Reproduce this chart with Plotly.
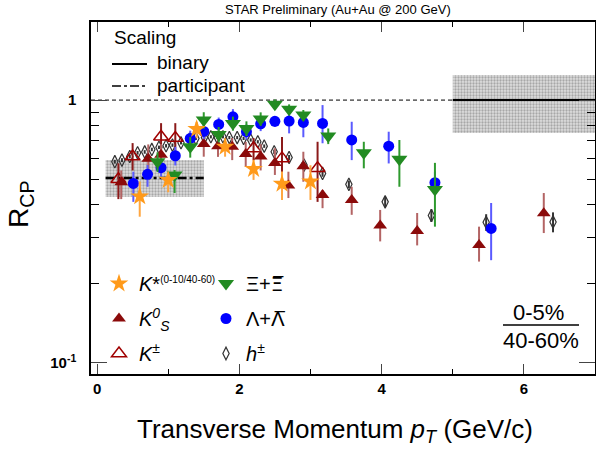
import plotly.graph_objects as go

# R_CP (0-5% / 40-60%)
pt_h = [0.25, 0.35, 0.46, 0.57, 0.67, 0.77, 0.87, 0.97, 1.06, 1.18, 1.30, 1.39, 1.51, 1.60, 1.69, 1.77,
        1.86, 1.97, 2.06, 2.16, 2.26, 2.35, 2.49, 2.70, 2.91, 3.17, 3.54, 4.05, 4.70, 5.47, 6.41]
r_h = [0.583, 0.591, 0.61, 0.63, 0.635, 0.649, 0.661, 0.67, 0.674, 0.688, 0.71, 0.715, 0.72, 0.725, 0.72, 0.725,
       0.72, 0.72, 0.715, 0.705, 0.694, 0.668, 0.636, 0.605, 0.566, 0.526, 0.478, 0.41, 0.364, 0.343, 0.344]
err_h = [0.01] * 22 + [0.012, 0.013, 0.014, 0.015, 0.016, 0.018, 0.02, 0.025, 0.03]

pt_kstar = [0.6, 1.0, 1.4, 1.8, 2.2, 2.6, 3.0]
r_kstar = [0.43, 0.496, 0.776, 0.664, 0.547, 0.48, 0.49]
up_kstar = [0.06, 0.035, 0.05, 0.05, 0.045, 0.055, 0.075]
dn_kstar = [0.07, 0.05, 0.06, 0.055, 0.05, 0.063, 0.073]

pt_k0 = [0.34, 0.72, 0.9, 1.5, 1.7, 1.9, 2.09, 2.3, 2.5, 2.69, 2.9, 3.17, 3.58, 3.98, 4.5, 5.37, 6.28]
r_k0 = [0.487, 0.598, 0.62, 0.68, 0.668, 0.664, 0.623, 0.61, 0.576, 0.473, 0.56, 0.435, 0.417, 0.333, 0.318, 0.281, 0.371]
up_k0 = [0.053, 0.08, 0.06, 0.056, 0.05, 0.053, 0.07, 0.07, 0.08, 0.061, 0.076, 0.02, 0.051, 0.049, 0.054, 0.049, 0.072]
dn_k0 = [0.067, 0.08, 0.06, 0.071, 0.06, 0.073, 0.066, 0.07, 0.057, 0.049, 0.071, 0.047, 0.051, 0.043, 0.038, 0.038, 0.059]

pt_kch = [0.3, 0.5, 0.9, 1.1, 2.2, 2.6, 3.1]
r_kch = [0.50, 0.61, 0.725, 0.717, 0.655, 0.60, 0.55]
up_kch = [0.075, 0.076, 0.092, 0.10, 0.062, 0.123, 0.144]
dn_kch = [0.08, 0.07, 0.125, 0.11, 0.065, 0.104, 0.14]

pt_lam = [0.51, 0.71, 0.90, 1.10, 1.31, 1.50, 1.71, 1.91, 2.10, 2.30, 2.50, 2.70, 2.90, 3.17, 3.58, 4.10, 4.75, 5.54]
r_lam = [0.482, 0.522, 0.553, 0.614, 0.715, 0.76, 0.808, 0.864, 0.758, 0.812, 0.83, 0.832, 0.822, 0.815, 0.705, 0.668, 0.485, 0.325]
up_lam = [0.052, 0.044, 0.04, 0.05, 0.05, 0.05, 0.05, 0.06, 0.05, 0.05, 0.04, 0.05, 0.07, 0.142, 0.122, 0.09, 0.05, 0.081]
dn_lam = [0.072, 0.054, 0.04, 0.05, 0.05, 0.05, 0.05, 0.06, 0.05, 0.05, 0.04, 0.085, 0.1, 0.13, 0.114, 0.094, 0.05, 0.079]

pt_xi = [0.85, 1.09, 1.31, 1.50, 1.71, 1.91, 2.10, 2.30, 2.50, 2.70, 2.90, 3.25, 3.75, 4.25, 4.75]
r_xi = [0.583, 0.519, 0.664, 0.839, 0.74, 0.815, 0.78, 0.848, 0.965, 0.923, 0.877, 0.73, 0.63, 0.595, 0.457]
up_xi = [0.05, 0.023, 0.06, 0.06, 0.05, 0.05, 0.05, 0.05, 0.04, 0.04, 0.04, 0.05, 0.064, 0.11, 0.12]
dn_xi = [0.05, 0.076, 0.06, 0.06, 0.05, 0.05, 0.05, 0.05, 0.04, 0.04, 0.04, 0.05, 0.08, 0.127, 0.127]

# scaling uncertainty bands
npart_pt = [0.12, 1.5]
npart_val, npart_lo, npart_hi = 0.505, 0.428, 0.591
nbin_pt = [5.0, 7.0]
nbin_val, nbin_lo, nbin_hi = 1.0, 0.75, 1.245

FONT = "Liberation Sans, Arial, sans-serif"
L, R, T, B, W, H = 91, 1, 22, 80, 596, 454


def px(x):
    return (x - L) / (W - L - R)


def py(y):
    return (H - B - y) / (H - T - B)


fig = go.Figure()

# grey boxes
for xs, lo, hi in [(npart_pt, npart_lo, npart_hi), (nbin_pt, nbin_lo, nbin_hi)]:
    fig.add_trace(go.Scatter(
        x=[xs[0], xs[1], xs[1], xs[0], xs[0]], y=[lo, lo, hi, hi, lo],
        fill="toself", mode="none", showlegend=False, hoverinfo="skip",
        fillpattern=dict(shape=".", fgcolor="#707070", bgcolor="#dedede", size=3, solidity=0.45),
    ))

fig.add_trace(go.Scatter(x=npart_pt, y=[npart_val] * 2, mode="lines", showlegend=False,
                         line=dict(color="black", width=2.5, dash="dashdot")))
fig.add_trace(go.Scatter(x=[-0.085, nbin_pt[0]], y=[nbin_val] * 2, mode="lines", showlegend=False,
                         line=dict(color="black", width=1, dash="4px,3px")))
fig.add_trace(go.Scatter(x=nbin_pt, y=[nbin_val] * 2, mode="lines", showlegend=False,
                         line=dict(color="black", width=2)))


def series(x, y, up, dn, name, symbol, size, color, barcolor, legend, rank, lw=0):
    fig.add_trace(go.Scatter(
        x=x, y=y, mode="markers", name=name, legend=legend, legendgroup=name, legendrank=rank,
        error_y=dict(type="data", array=up, arrayminus=dn, color=barcolor, thickness=2, width=0),
        marker=dict(symbol=symbol, size=size, color=color, line=dict(color=color, width=lw)),
    ))


bar = "<span style='font-family:DejaVu Sans'>%s\u0305</span>"
series(pt_h, r_h, err_h, err_h, "<i>h</i><sup>\u00b1</sup>", "diamond-tall-open", 9, "#333333", "#333333", "legend2", 6, 1.2)
series(pt_kch, r_kch, up_kch, dn_kch, "<i>K</i><sup>\u00b1</sup>", "triangle-up-open", 13, "#a00000", "#8b1a1a", "legend", 3, 1.5)
series(pt_k0, r_k0, up_k0, dn_k0, "<i>K</i><sup><i>0</i></sup><sub><i>S</i></sub>", "triangle-up", 12, "#8b0a0a", "#b36464", "legend", 2)
series(pt_lam, r_lam, up_lam, dn_lam, "\u039b+" + bar % "\u039b", "circle", 11, "#0000ff", "#5a5aff", "legend2", 5)
series(pt_xi, r_xi, up_xi, dn_xi, "\u039e+" + bar % "\u039e", "triangle-down", 14, "#228b22", "#2e9a2e", "legend2", 4)
series(pt_kstar, r_kstar, up_kstar, dn_kstar,
       "<i>K</i>*<sup><span style='font-size:10px'>(0-10/40-60)</span></sup>", "star", 14, "#ff9a1a", "#ffa640", "legend", 1)

leg = dict(bgcolor="rgba(0,0,0,0)", font=dict(family=FONT, size=20, color="black"),
           tracegroupgap=6, yanchor="top", xanchor="left", itemsizing="trace")

annotations = [
    dict(text="STAR Preliminary (Au+Au @ 200 GeV)", x=px(338), y=py(10), font=dict(size=13)),
    dict(text="Scaling", x=px(112), y=py(38), xanchor="left", font=dict(size=19)),
    dict(text="binary", x=px(155), y=py(63), xanchor="left", font=dict(size=19)),
    dict(text="participant", x=px(155), y=py(85), xanchor="left", font=dict(size=19)),
    dict(text="R<sub>CP</sub>", x=px(20), y=py(205), textangle=-90, font=dict(size=28)),
    dict(text="Transverse Momentum <i>p<sub>T</sub></i> (GeV/c)", x=px(335), y=py(430), font=dict(size=26)),
    dict(text="0-5%", x=px(538), y=py(312), font=dict(size=22)),
    dict(text="40-60%", x=px(541), y=py(340), font=dict(size=22)),
]
for a in annotations:
    a.setdefault("xanchor", "center")
    a.update(xref="paper", yref="paper", showarrow=False, yanchor="middle")
    a["font"] = dict(family=FONT, color="black", **a["font"])

shapes = [
    dict(type="line", x0=px(112), x1=px(147), y0=py(64), y1=py(64), line=dict(color="black", width=2)),
    dict(type="line", x0=px(112), x1=px(147), y0=py(86), y1=py(86), line=dict(color="black", width=1.5, dash="dashdot")),
    dict(type="line", x0=px(503), x1=px(579), y0=py(325), y1=py(325), line=dict(color="black", width=1.5)),
]
for s in shapes:
    s.update(xref="paper", yref="paper")

fig.update_layout(
    width=W, height=H, margin=dict(l=L, r=R, t=T, b=B, autoexpand=False),
    plot_bgcolor="white", paper_bgcolor="white",
    font=dict(family=FONT, color="black"),
    annotations=annotations, shapes=shapes,
    legend=dict(leg, x=px(99), y=py(264)),
    legend2=dict(leg, x=px(206), y=py(264)),
    xaxis=dict(range=[-0.085, 7.0], tickvals=[0, 2, 4, 6], ticks="inside", ticklen=10, tickwidth=1.2,
               showline=True, linecolor="black", linewidth=1.5, mirror="ticks", showgrid=False, zeroline=False,
               automargin=False, tickfont=dict(family=FONT, size=15, weight="bold"),
               minor=dict(tickvals=[1, 3, 5], ticks="inside", ticklen=5, tickcolor="black", showgrid=False)),
    yaxis=dict(type="log", range=[-1.042, 0.297], tickvals=[0.1, 1], ticktext=["10<sup>-1</sup>", "1"],
               ticks="inside", ticklen=16, tickwidth=1.2, ticklabelstandoff=10,
               showline=True, linecolor="black", linewidth=1.5, mirror="ticks", showgrid=False, zeroline=False,
               automargin=False, tickfont=dict(family=FONT, size=15, weight="bold"),
               minor=dict(tickvals=[0.2, 0.3, 0.4, 0.5, 0.6, 0.7, 0.8, 0.9, 2], ticks="inside", ticklen=8,
                          tickcolor="black", showgrid=False)),
)

fig.write_html("out.html", config={"displayModeBar": False},
               post_script="document.body.style.margin='0px';")
